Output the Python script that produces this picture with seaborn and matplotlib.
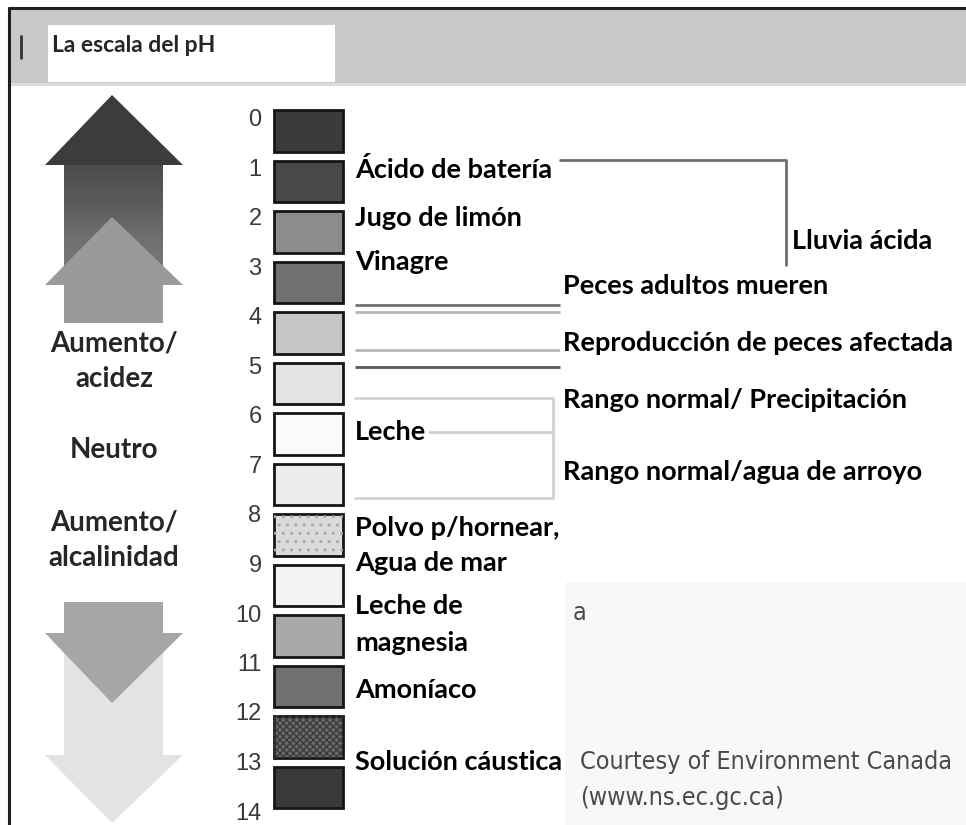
import numpy as np
import pandas as pd
import matplotlib
matplotlib.use("Agg")
import matplotlib.pyplot as plt
import seaborn as sns
from matplotlib.patches import Polygon, Rectangle

# ---------------- data ----------------
ph_levels = list(range(14))                      # one swatch per pH unit
scale_ticks = [str(v) for v in range(15)]        # 0 .. 14
swatch_colors = ['#3b3b3b', '#484848', '#8c8c8c', '#707070', '#c6c6c6',
                 '#e3e3e3', '#fbfbfb', '#ececec', '#dadada', '#f2f2f2',
                 '#a9a9a9', '#707070', '#6a6a6a', '#3a3a3a']
swatch_hatches = ['', '', '', '', '', '', '', '', '..', '', '', '', 'xxxxx', '']

substances = ['Ácido de batería', 'Jugo de limón', 'Vinagre', 'Leche',
              'Polvo p/hornear,', 'Agua de mar', 'Leche de', 'magnesia',
              'Amoníaco', 'Solución cáustica']
effects = ['Peces adultos mueren', 'Reproducción de peces afectada',
           'Rango normal/ Precipitación', 'Rango normal/agua de arroyo']
acid_rain_label = 'Lluvia ácida'
acid_rain_ph = [0.99, 3.07]
fish_death_ph = [3.86, 4.0]
fish_repro_ph = [4.75, 5.09]
normal_range_ph = [5.7, 7.68]
milk_ph = 6.38
side_labels = ['Aumento/\nacidez', 'Neutro', 'Aumento/\nalcalinidad']
title = 'La escala del pH'
credit = ['Courtesy of Environment Canada', '(www.ns.ec.gc.ca)']

# ---------------- layout ----------------
W, H = 966, 825
sns.set_theme(style="white")
plt.rcParams['font.family'] = ['Lato', 'DejaVu Sans']

fig = plt.figure(figsize=(W / 100, H / 100), dpi=100)
fig.patch.set_facecolor('white')

# background / decoration axes in pixel coordinates
ax = fig.add_axes([0, 0, 1, 1], zorder=0)
ax.set_xlim(0, W); ax.set_ylim(H, 0); ax.axis('off')

# header band and frame
ax.add_patch(Rectangle((9, 8), W, 77, fc='#c9c9c9', ec='none'))
ax.add_patch(Rectangle((9, 83), W, 3, fc='#dcdcdc', ec='none'))
ax.plot([9, 9], [8, H], color='#1e1e1e', lw=2.2)
ax.plot([9, W], [8, 8], color='#1e1e1e', lw=2.2)
ax.add_patch(Rectangle((48, 25), 287, 57, fc='white', ec='none'))
ax.plot([21, 21], [36, 58], color='#333', lw=2)
# light panel bottom right
ax.add_patch(Rectangle((565, 582), W - 565, H - 582, fc='#f8f8f8', ec='none'))

# up arrows (acidity)
grad = np.linspace(0, 1, 100).reshape(-1, 1)
ax.imshow(grad, extent=(64, 163, 275, 163), cmap=matplotlib.colors.LinearSegmentedColormap.from_list(
    'g', ['#4c4c4c', '#5a5a5a', '#6f6f6f', '#7a7a7a']), aspect='auto', zorder=1)
ax.add_patch(Polygon([(45, 165), (112, 95), (183, 165)], closed=True, fc='#3c3c3c', ec='none', zorder=2))
ax.add_patch(Polygon([(45, 285), (112, 217), (183, 285), (163, 285), (163, 330),
                      (64, 330), (64, 285)], closed=True, fc='#9a9a9a', ec='none', zorder=3))
# down arrows (alkalinity)
ax.add_patch(Polygon([(64, 600), (163, 600), (163, 755), (183, 755), (112, 823),
                      (45, 755), (64, 755)], closed=True, fc='#e3e3e3', ec='none', zorder=2))
ax.add_patch(Polygon([(64, 600), (163, 600), (163, 633), (183, 633), (112, 703),
                      (45, 633), (64, 633)], closed=True, fc='#a6a6a6', ec='none', zorder=3))
# white box for side labels
ax.add_patch(Rectangle((30, 323), 163, 279, fc='white', ec='none', zorder=4))

# pH axes for annotation lines (x in pixels, y in pH units)
pa = fig.add_axes([0, 0, 1, 1], zorder=1)
pa.set_facecolor('none'); pa.axis('off')
pa.set_xlim(0, W)
pa.set_ylim((H - 110) / 50.5, -110 / 50.5)
pa.plot([560, 786, 786], [acid_rain_ph[0], acid_rain_ph[0], acid_rain_ph[1]], color='#6e6e6e', lw=2)
pa.hlines(fish_death_ph, 355, 560, colors=['#707070', '#b5b5b5'], lw=2)
pa.hlines(fish_repro_ph, 355, 560, colors=['#b5b5b5', '#5a5a5a'], lw=2)
pa.plot([355, 553, 553, 355], [normal_range_ph[0], normal_range_ph[0], normal_range_ph[1], normal_range_ph[1]],
        color='#d2d2d2', lw=2)
pa.hlines([milk_ph], 355, 553, colors=['#cfcfcf'], lw=2)

# swatch column drawn with seaborn
sx = fig.add_axes([274 / W, 0, 69 / W, 1], zorder=2)
sx.set_facecolor('none')
df = pd.DataFrame({'ph': [str(v) for v in ph_levels], 'len': 1.0})
sns.barplot(data=df, x='len', y='ph', hue='ph', palette=swatch_colors, legend=False,
            orient='h', width=0.83, saturation=1, edgecolor='#151515', linewidth=2, ax=sx)
sx.set_xlim(0, 1)
sx.set_ylim((H - 131) / 50.5, -131 / 50.5)
for p, h in zip(sx.patches, swatch_hatches):
    p.set_clip_on(False)
    if h:
        hc = '#a8a8a8' if h == '..' else '#3a3a3a'
        sx.add_patch(Rectangle(p.get_xy(), p.get_width(), p.get_height(), fill=False,
                               hatch=h, edgecolor=hc, lw=0, clip_on=False))
tick_pix = [118 + 49.5 * k for k in range(len(scale_ticks))]
sx.set_yticks([(t - 131) / 50.5 for t in tick_pix])
sx.set_yticklabels(scale_ticks, family=['Liberation Sans', 'DejaVu Sans'])
sx.tick_params(axis='y', left=False, length=0, pad=9, labelsize=17, labelcolor='#3a3a3a')
sx.set_xticks([])
sx.set_xlabel(''); sx.set_ylabel('')
for s in sx.spines.values():
    s.set_visible(False)

# labels on top
tx = fig.add_axes([0, 0, 1, 1], zorder=3)
tx.set_facecolor('none'); tx.axis('off')
tx.set_xlim(0, W); tx.set_ylim(H, 0)
lab = dict(fontsize=19.5, fontweight='bold', color='black', va='center', ha='left')
box = dict(fc='white', ec='none', pad=2)
tx.text(52, 46, title, fontsize=16.5, fontweight='bold', va='center', ha='left')
for s, y in zip(substances, [170, 218, 262, 432, 528, 563, 606, 643, 690, 762]):
    tx.text(355, y, s, bbox=box, **lab)
for s, y in zip(effects, [286, 343, 400, 472]):
    tx.text(563, y, s, bbox=box, **lab)
tx.text(792, 241, acid_rain_label, bbox=box, **lab)
for s, y in zip(side_labels, [361, 450, 540]):
    tx.text(114, y, s, fontsize=20, fontweight='bold', ha='center', va='center',
            linespacing=1.45)
cfont = dict(family='DejaVu Sans', fontstretch='condensed', fontsize=18, color='#4a4a4a', va='center')
tx.text(573, 613, 'a', **cfont)
tx.text(580, 762, credit[0], **cfont)
tx.text(580, 798, credit[1], **cfont)

fig.savefig('out.png', dpi=100)
